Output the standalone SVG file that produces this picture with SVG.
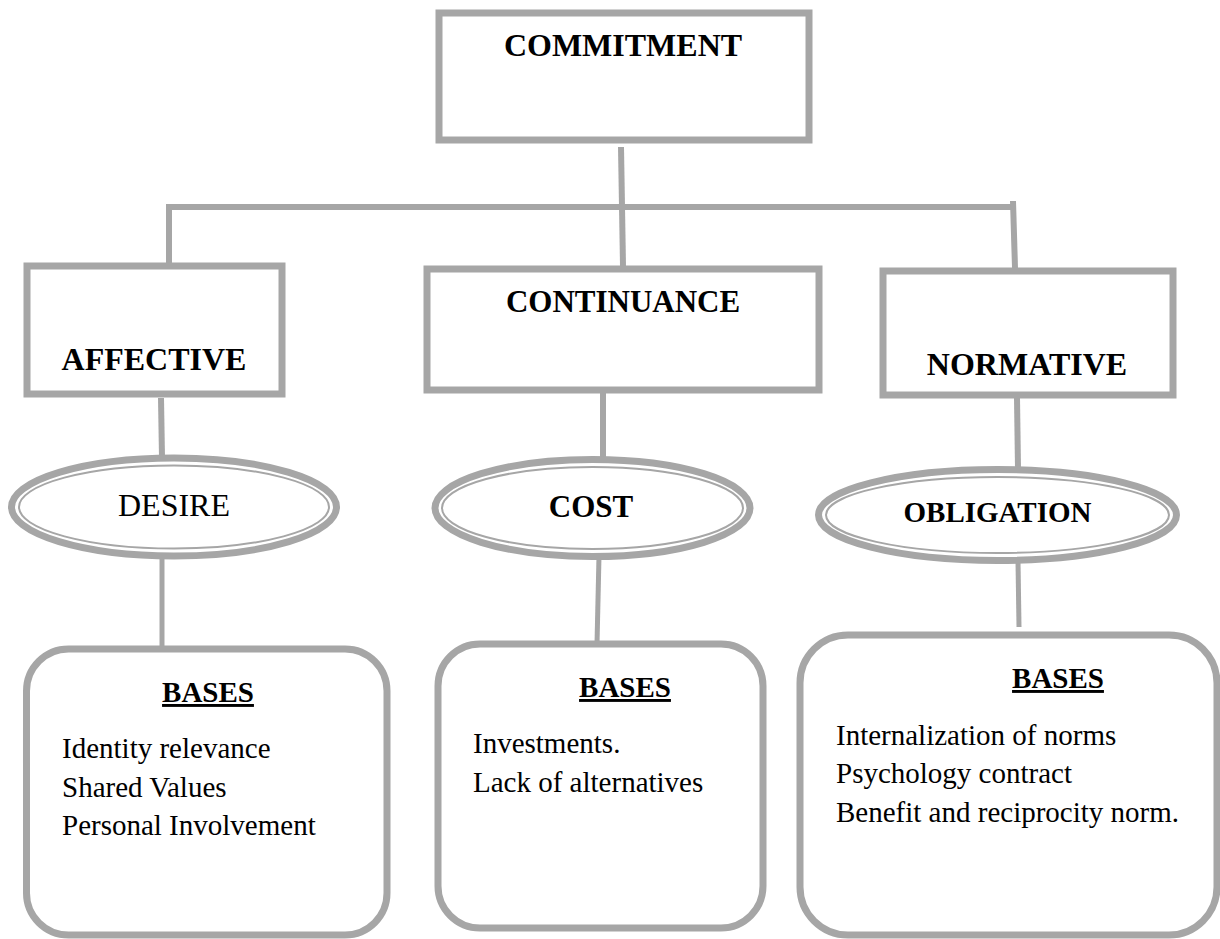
<svg xmlns="http://www.w3.org/2000/svg" width="1220" height="939" viewBox="0 0 1220 939">
<style>
.box{fill:#fff;stroke:#a6a6a6;stroke-width:7}
.rbox{fill:#fff;stroke:#a6a6a6;stroke-width:7}
.eo{fill:#fff;stroke:#a6a6a6;stroke-width:7}
.ei{fill:none;stroke:#a6a6a6;stroke-width:2}
.ln{stroke:#a6a6a6;stroke-width:6;fill:none}
.ln2{stroke:#a6a6a6;stroke-width:5;fill:none}
text{font-family:"Liberation Serif","Times New Roman",serif;fill:#000}
.h{font-weight:bold;font-size:32px;text-anchor:middle}
.e{font-size:32px;text-anchor:middle}
.b{font-weight:bold;font-size:29px;text-anchor:middle;text-decoration:underline}
.t{font-size:29px}
</style>
<rect width="1220" height="939" fill="#fff"/>
<g id="connectors">
<line class="ln" x1="621" y1="147" x2="623" y2="266"/>
<line class="ln" x1="166" y1="207" x2="1016" y2="207"/>
<line class="ln" x1="169" y1="204" x2="169" y2="266"/>
<line class="ln" x1="1013" y1="201" x2="1015" y2="268"/>
<line class="ln" x1="161" y1="398" x2="162" y2="458"/>
<line class="ln" x1="603" y1="393" x2="603" y2="459"/>
<line class="ln" x1="1017" y1="398" x2="1018" y2="469"/>
<line class="ln2" x1="162" y1="556" x2="162" y2="649"/>
<line class="ln2" x1="599" y1="556" x2="597" y2="644"/>
<line class="ln2" x1="1018" y1="561" x2="1019" y2="627"/>
</g>
<g id="commitment">
<rect class="box" x="439" y="13" width="370" height="127"/>
<text class="h" x="623" y="56">COMMITMENT</text>
</g>
<g id="affective">
<rect class="box" x="27" y="266" width="255" height="128"/>
<text class="h" x="154" y="370">AFFECTIVE</text>
</g>
<g id="continuance">
<rect class="box" x="427" y="269" width="392" height="121"/>
<text class="h" x="623" y="312" style="font-size:31px">CONTINUANCE</text>
</g>
<g id="normative">
<rect class="box" x="883" y="271" width="290" height="124"/>
<text class="h" x="1027" y="375">NORMATIVE</text>
</g>
<g id="desire">
<ellipse class="eo" cx="174" cy="507" rx="162.5" ry="49"/>
<ellipse class="ei" cx="174" cy="507" rx="155" ry="41.5"/>
<text class="e" x="174" y="516">DESIRE</text>
</g>
<g id="cost">
<ellipse class="eo" cx="592.5" cy="508" rx="157.5" ry="48.5"/>
<ellipse class="ei" cx="592.5" cy="508" rx="150.5" ry="41"/>
<text class="h" x="591" y="517" style="font-size:31px">COST</text>
</g>
<g id="obligation">
<ellipse class="eo" cx="997.5" cy="515" rx="179" ry="45.5"/>
<ellipse class="ei" cx="997.5" cy="515" rx="171.5" ry="38"/>
<text class="h" x="997.5" y="522" style="font-size:29px">OBLIGATION</text>
</g>
<g id="bases-affective">
<rect class="rbox" x="26.5" y="649" width="360.5" height="286" rx="42" ry="42"/>
<text class="b" x="208" y="702">BASES</text>
<text class="t" x="62" y="758">Identity relevance</text>
<text class="t" x="62" y="797">Shared Values</text>
<text class="t" x="62" y="835">Personal Involvement</text>
</g>
<g id="bases-continuance">
<rect class="rbox" x="438" y="644" width="325" height="284" rx="42" ry="42"/>
<text class="b" x="625" y="697">BASES</text>
<text class="t" x="473" y="753">Investments.</text>
<text class="t" x="473" y="792">Lack of alternatives</text>
</g>
<g id="bases-normative">
<rect class="rbox" x="800" y="635" width="417" height="300" rx="48" ry="48"/>
<text class="b" x="1058" y="688">BASES</text>
<text class="t" x="836" y="745">Internalization of norms</text>
<text class="t" x="836" y="783">Psychology contract</text>
<text class="t" x="836" y="822">Benefit and reciprocity norm.</text>
</g>
</svg>
